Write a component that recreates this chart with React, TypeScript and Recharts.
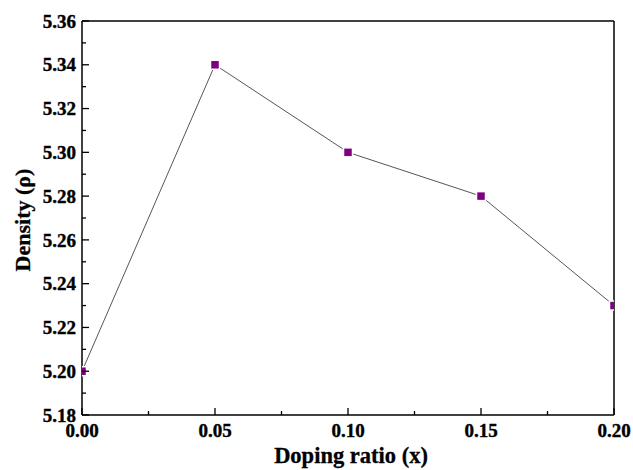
import React from "react";
import {
  LineChart,
  Line,
  XAxis,
  YAxis,
  ReferenceLine,
} from "recharts";

const dopingRatio = [0, 0.05, 0.1, 0.15, 0.2];
const density = [5.2, 5.34, 5.3, 5.28, 5.23];

const xTicks = [0, 0.025, 0.05, 0.075, 0.1, 0.125, 0.15, 0.175, 0.2];
const xMajor = [0, 0.05, 0.1, 0.15, 0.2];
const yTicks = [5.18, 5.19, 5.2, 5.21, 5.22, 5.23, 5.24, 5.25, 5.26, 5.27, 5.28, 5.29, 5.3, 5.31, 5.32, 5.33, 5.34, 5.35, 5.36];
const yMajor = [5.18, 5.2, 5.22, 5.24, 5.26, 5.28, 5.3, 5.32, 5.34, 5.36];

const data = dopingRatio.map((x, i) => ({ x, rho: density[i] }));

const FONT = "'Liberation Serif', 'Times New Roman', serif";

const isMajor = (list: number[], v: number) =>
  list.some((m) => Math.abs(m - v) < 1e-9);

function YTick(props: any) {
  const { x, y, payload } = props;
  const major = isMajor(yMajor, payload.value);
  return (
    <g>
      <line x1={x} x2={x + (major ? 7 : 4)} y1={y} y2={y} stroke="#000" strokeWidth={1.3} />
      {major && (
        <text
          x={x - 6}
          y={y}
          dy="0.35em"
          textAnchor="end"
          fontFamily={FONT}
          fontWeight="bold"
          fontSize={19}
          fill="#000"
          stroke="#000"
          strokeWidth={0.4}
        >
          {payload.value.toFixed(2)}
        </text>
      )}
    </g>
  );
}

function XTick(props: any) {
  const { x, y, payload } = props;
  const major = isMajor(xMajor, payload.value);
  return (
    <g>
      <line x1={x} x2={x} y1={y} y2={y - (major ? 7 : 4)} stroke="#000" strokeWidth={1.3} />
      {major && (
        <text
          x={x}
          y={y + 22}
          textAnchor="middle"
          fontFamily={FONT}
          fontWeight="bold"
          fontSize={19}
          fill="#000"
          stroke="#000"
          strokeWidth={0.4}
        >
          {payload.value.toFixed(2)}
        </text>
      )}
    </g>
  );
}

function SquareDot(props: any) {
  const { cx, cy } = props;
  if (cx == null || cy == null) return null;
  return (
    <rect x={cx - 4.5} y={cy - 4.5} width={9} height={9} fill="#800080" stroke="#fff" strokeWidth={1.5} />
  );
}

export default function App() {
  return (
    <div style={{ position: "absolute", left: 0, top: 0, width: 633, height: 470, background: "#fff" }}>
      <LineChart
        width={633}
        height={470}
        data={data}
        margin={{ top: 21, right: 19, left: 0, bottom: 0 }}
      >
        <XAxis
          dataKey="x"
          type="number"
          domain={[0, 0.2]}
          ticks={xTicks}
          allowDataOverflow
          height={55}
          tickSize={0}
          tickMargin={0}
          tickLine={false}
          tick={<XTick />}
          axisLine={{ stroke: "#000", strokeWidth: 1.5 }}
          interval={0}
          label={{
            content: (p: any) => (
              <text
                x={p.viewBox.x + p.viewBox.width / 2 + 3}
                y={p.viewBox.y + 48}
                textAnchor="middle"
                fontFamily={FONT}
                fontWeight="bold"
                fontSize={22.5}
                fill="#000"
                stroke="#000"
                strokeWidth={0.3}
              >
                Doping ratio (x)
              </text>
            ),
          }}
        />
        <YAxis
          type="number"
          domain={[5.18, 5.36]}
          ticks={yTicks}
          allowDataOverflow
          width={82}
          tickSize={0}
          tickMargin={0}
          tickLine={false}
          tick={<YTick />}
          axisLine={{ stroke: "#000", strokeWidth: 1.5 }}
          interval={0}
          label={{
            content: (p: any) => {
              const cx = p.viewBox.x + 22;
              const cy = p.viewBox.y + p.viewBox.height / 2 + 2;
              return (
                <text
                  x={cx}
                  y={cy}
                  textAnchor="middle"
                  dominantBaseline="central"
                  transform={`rotate(-90 ${cx} ${cy})`}
                  fontFamily={FONT}
                  fontWeight="bold"
                  fontSize={22}
                  fill="#000"
                  stroke="#000"
                  strokeWidth={0.3}
                >
                  Density (ρ)
                </text>
              );
            },
          }}
        />
        <ReferenceLine y={5.36} stroke="#000" strokeWidth={1.5} />
        <ReferenceLine x={0.2} stroke="#000" strokeWidth={1.5} />
        <Line
          type="linear"
          dataKey="rho"
          stroke="#555"
          strokeWidth={1}
          dot={<SquareDot />}
          activeDot={false}
          isAnimationActive={false}
        />
      </LineChart>
    </div>
  );
}
